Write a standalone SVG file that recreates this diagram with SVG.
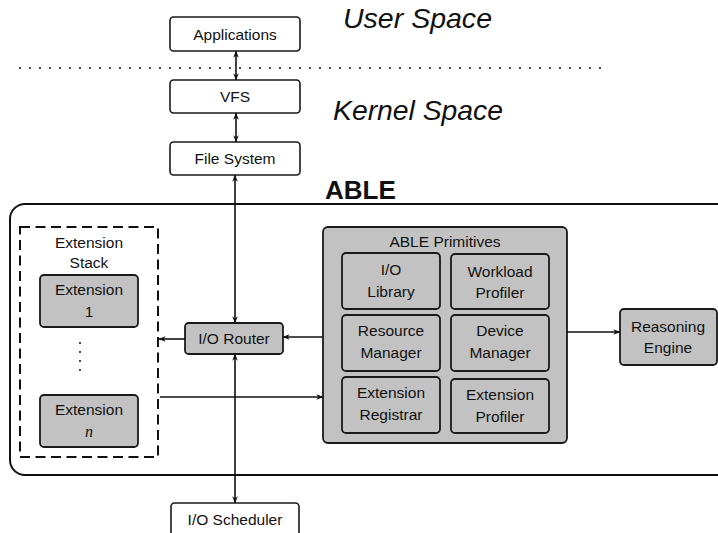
<svg xmlns="http://www.w3.org/2000/svg" width="718" height="533" viewBox="0 0 718 533">
  <style>
    .lbl { font-family: "Liberation Sans", Arial, sans-serif; font-size: 15.5px; fill: #111; text-anchor: middle; }
    .head { font-family: "Liberation Sans", Arial, sans-serif; font-size: 28px; font-style: italic; fill: #111; }
    .box { fill: #ffffff; stroke: #1a1a1a; stroke-width: 1.6; }
    .gbox { fill: #c2c2c2; stroke: #1a1a1a; stroke-width: 1.8; }
    .conn { fill: none; stroke: #111; stroke-width: 1.6; }
    .math { font-family: "Liberation Serif", "Times New Roman", serif; font-style: italic; font-size: 16px; fill: #111; text-anchor: middle; }
    .dots { stroke: #111; stroke-width: 2; stroke-linecap: round; }
  </style>
  <defs>
    <marker id="arrow" viewBox="0 0 10 10" refX="9.5" refY="5" markerWidth="7" markerHeight="7" markerUnits="userSpaceOnUse" orient="auto-start-reverse">
      <path d="M0,1 L10,5 L0,9 L3,5 Z" fill="#111"/>
    </marker>
  </defs>

  <rect width="718" height="533" fill="#ffffff"/>

  <!-- user / kernel boundary -->
  <line class="dots" x1="20" y1="68" x2="602" y2="68" stroke-dasharray="0 10"/>

  <!-- region headings -->
  <text class="head" x="343" y="28" textLength="149" lengthAdjust="spacingAndGlyphs">User Space</text>
  <text class="head" x="333" y="120" textLength="170" lengthAdjust="spacingAndGlyphs">Kernel Space</text>
  <text x="325" y="199" font-family="'Liberation Sans', Arial, sans-serif" font-size="26" font-weight="bold" fill="#111">ABLE</text>

  <!-- ABLE container, open on the right -->
  <g id="able">
    <path d="M733,204 H25 A15,15 0 0 0 10,219 V460 A15,15 0 0 0 25,475 H733" fill="none" stroke="#111" stroke-width="2"/>
  </g>

  <g id="applications">
    <rect class="box" x="170" y="17" width="130" height="34" rx="3.5"/>
    <text class="lbl" x="235" y="39.5">Applications</text>
  </g>
  <g id="vfs">
    <rect class="box" x="170" y="80" width="130" height="33" rx="3.5"/>
    <text class="lbl" x="235" y="102">VFS</text>
  </g>
  <g id="file-system">
    <rect class="box" x="170" y="142" width="130" height="33" rx="3.5"/>
    <text class="lbl" x="235" y="164">File System</text>
  </g>

  <g id="extension-stack">
    <rect x="20" y="227" width="138" height="230" fill="none" stroke="#111" stroke-width="2" stroke-dasharray="10 5.5"/>
    <text class="lbl" x="89" y="248">Extension</text>
    <text class="lbl" x="89" y="268">Stack</text>
    <line class="dots" x1="80" y1="343" x2="80" y2="379" stroke-dasharray="0 9"/>
  </g>
  <g id="extension-1">
    <rect class="gbox" x="40" y="275" width="98" height="52" rx="4"/>
    <text class="lbl" x="89" y="295">Extension</text>
    <text class="lbl" x="89" y="317">1</text>
  </g>
  <g id="extension-n">
    <rect class="gbox" x="40" y="395" width="98" height="52" rx="4"/>
    <text class="lbl" x="89" y="415">Extension</text>
    <text class="math" x="89" y="437">n</text>
  </g>

  <g id="io-router">
    <rect class="gbox" x="185" y="323" width="98" height="31" rx="3.5"/>
    <text class="lbl" x="234" y="344">I/O Router</text>
  </g>

  <g id="able-primitives">
    <rect class="gbox" x="323" y="227" width="244" height="216" rx="5"/>
    <text class="lbl" x="445" y="247">ABLE Primitives</text>
  </g>
  <g id="io-library">
    <rect class="gbox" x="342" y="253" width="98" height="56" rx="4"/>
    <text class="lbl" x="391" y="275">I/O</text>
    <text class="lbl" x="391" y="297">Library</text>
  </g>
  <g id="workload-profiler">
    <rect class="gbox" x="451" y="254" width="98" height="55" rx="4"/>
    <text class="lbl" x="500" y="277">Workload</text>
    <text class="lbl" x="500" y="298">Profiler</text>
  </g>
  <g id="resource-manager">
    <rect class="gbox" x="342" y="315" width="98" height="56" rx="4"/>
    <text class="lbl" x="391" y="336">Resource</text>
    <text class="lbl" x="391" y="358">Manager</text>
  </g>
  <g id="device-manager">
    <rect class="gbox" x="451" y="315" width="98" height="56" rx="4"/>
    <text class="lbl" x="500" y="336">Device</text>
    <text class="lbl" x="500" y="358">Manager</text>
  </g>
  <g id="extension-registrar">
    <rect class="gbox" x="342" y="377" width="98" height="56" rx="4"/>
    <text class="lbl" x="391" y="398">Extension</text>
    <text class="lbl" x="391" y="420">Registrar</text>
  </g>
  <g id="extension-profiler">
    <rect class="gbox" x="451" y="379" width="98" height="54" rx="4"/>
    <text class="lbl" x="500" y="400">Extension</text>
    <text class="lbl" x="500" y="422">Profiler</text>
  </g>

  <g id="reasoning-engine">
    <rect class="gbox" x="620" y="309" width="97" height="56" rx="4"/>
    <text class="lbl" x="668" y="332">Reasoning</text>
    <text class="lbl" x="668" y="353">Engine</text>
  </g>

  <g id="io-scheduler">
    <rect class="box" x="171" y="503" width="128" height="34" rx="3.5"/>
    <text class="lbl" x="235" y="525">I/O Scheduler</text>
  </g>

  <!-- connectors -->
  <g id="connectors">
    <line class="conn" x1="236" y1="51" x2="236" y2="80" marker-start="url(#arrow)" marker-end="url(#arrow)"/>
    <line class="conn" x1="236" y1="113" x2="236" y2="142" marker-start="url(#arrow)" marker-end="url(#arrow)"/>
    <line class="conn" x1="235" y1="175" x2="235" y2="323" marker-start="url(#arrow)" marker-end="url(#arrow)"/>
    <line class="conn" x1="235" y1="354" x2="235" y2="503" marker-start="url(#arrow)" marker-end="url(#arrow)"/>
    <line class="conn" x1="323" y1="337" x2="283" y2="337" marker-end="url(#arrow)"/>
    <line class="conn" x1="185" y1="339" x2="159" y2="339" marker-end="url(#arrow)"/>
    <line class="conn" x1="160" y1="397" x2="323" y2="397" marker-end="url(#arrow)"/>
    <line class="conn" x1="567" y1="332" x2="620" y2="332" marker-end="url(#arrow)"/>
  </g>
</svg>
